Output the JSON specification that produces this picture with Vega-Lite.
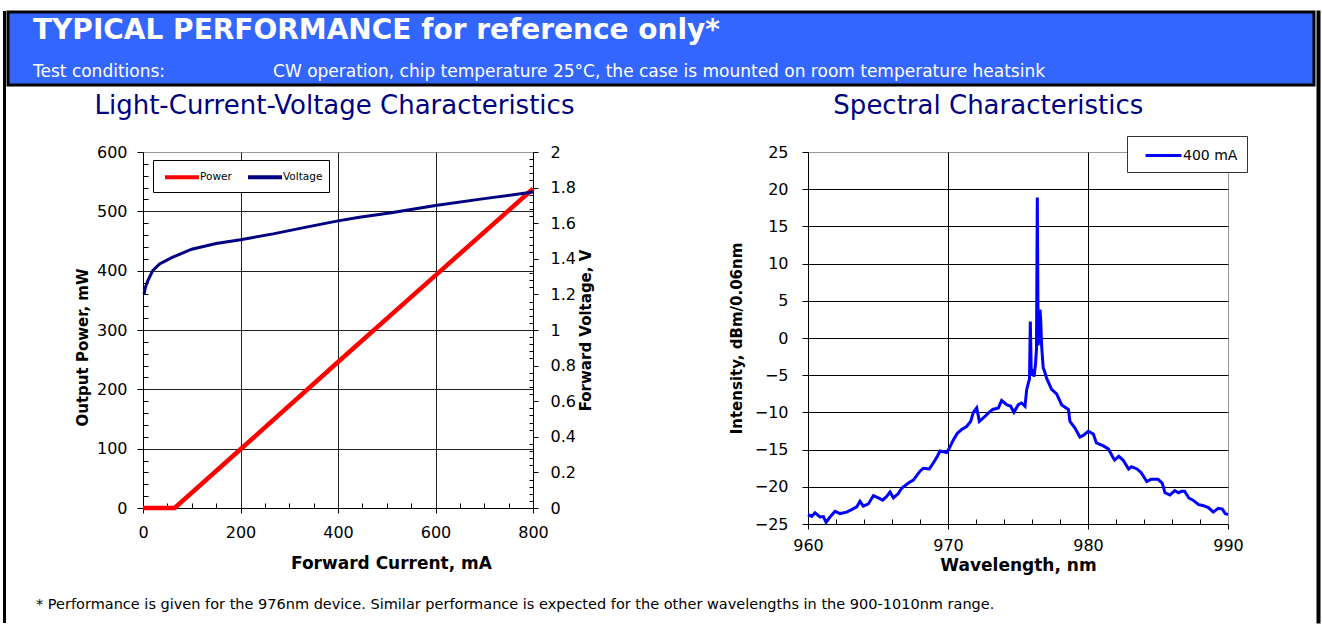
{
  "$schema": "https://vega.github.io/schema/vega-lite/v6.json",
  "background": "white",
  "padding": {"left": 3, "top": 10, "right": 2, "bottom": 0},
  "config": {
    "font": "DejaVu Sans",
    "view": {"stroke": null},
    "axis": {
      "labelFont": "DejaVu Sans", "titleFont": "DejaVu Sans",
      "labelColor": "black", "titleColor": "black",
      "domainColor": "black", "tickColor": "black",
      "labelFontSize": 16, "titleFontSize": 17, "titleFontWeight": "bold",
      "labelFlush": false, "labelOverlap": false, "labelBound": false,
      "gridColor": "#222222", "gridWidth": 1
    },
    "legend": {"labelFont": "DejaVu Sans", "labelColor": "black"}
  },
  "datasets": {
    "blank": [{"label": ""}],
    "power": [
      {"series": "Power", "current": 0, "power": 0},
      {"series": "Power", "current": 65, "power": 0},
      {"series": "Power", "current": 200, "power": 99},
      {"series": "Power", "current": 400, "power": 246},
      {"series": "Power", "current": 600, "power": 392},
      {"series": "Power", "current": 800, "power": 538}
    ],
    "voltage": [
      {"series": "Voltage", "current": 2, "voltage": 1.2},
      {"series": "Voltage", "current": 5, "voltage": 1.24},
      {"series": "Voltage", "current": 10, "voltage": 1.278},
      {"series": "Voltage", "current": 20, "voltage": 1.334},
      {"series": "Voltage", "current": 34, "voltage": 1.371},
      {"series": "Voltage", "current": 60, "voltage": 1.408},
      {"series": "Voltage", "current": 100, "voltage": 1.454},
      {"series": "Voltage", "current": 150, "voltage": 1.486},
      {"series": "Voltage", "current": 200, "voltage": 1.507},
      {"series": "Voltage", "current": 267, "voltage": 1.54},
      {"series": "Voltage", "current": 335, "voltage": 1.578},
      {"series": "Voltage", "current": 400, "voltage": 1.613},
      {"series": "Voltage", "current": 444, "voltage": 1.634},
      {"series": "Voltage", "current": 506, "voltage": 1.657},
      {"series": "Voltage", "current": 600, "voltage": 1.7},
      {"series": "Voltage", "current": 700, "voltage": 1.738},
      {"series": "Voltage", "current": 800, "voltage": 1.775}
    ],
    "spectrum": [
      {"series": "400 mA", "wl": 960.0, "intensity": -23.75},
      {"series": "400 mA", "wl": 960.27, "intensity": -23.97},
      {"series": "400 mA", "wl": 960.5, "intensity": -23.5},
      {"series": "400 mA", "wl": 960.86, "intensity": -24.06},
      {"series": "400 mA", "wl": 961.1, "intensity": -24.0},
      {"series": "400 mA", "wl": 961.29, "intensity": -24.78},
      {"series": "400 mA", "wl": 961.57, "intensity": -24.06},
      {"series": "400 mA", "wl": 961.93, "intensity": -23.3},
      {"series": "400 mA", "wl": 962.29, "intensity": -23.6},
      {"series": "400 mA", "wl": 962.76, "intensity": -23.4},
      {"series": "400 mA", "wl": 963.12, "intensity": -23.07},
      {"series": "400 mA", "wl": 963.48, "intensity": -22.7},
      {"series": "400 mA", "wl": 963.71, "intensity": -21.95},
      {"series": "400 mA", "wl": 963.95, "intensity": -22.6},
      {"series": "400 mA", "wl": 964.31, "intensity": -22.3},
      {"series": "400 mA", "wl": 964.67, "intensity": -21.2},
      {"series": "400 mA", "wl": 965.02, "intensity": -21.5},
      {"series": "400 mA", "wl": 965.33, "intensity": -21.8},
      {"series": "400 mA", "wl": 965.62, "intensity": -21.3},
      {"series": "400 mA", "wl": 965.86, "intensity": -20.7},
      {"series": "400 mA", "wl": 966.1, "intensity": -21.5},
      {"series": "400 mA", "wl": 966.45, "intensity": -20.9},
      {"series": "400 mA", "wl": 966.69, "intensity": -20.2},
      {"series": "400 mA", "wl": 967.17, "intensity": -19.5},
      {"series": "400 mA", "wl": 967.52, "intensity": -19.1},
      {"series": "400 mA", "wl": 968.0, "intensity": -17.9},
      {"series": "400 mA", "wl": 968.24, "intensity": -17.5},
      {"series": "400 mA", "wl": 968.67, "intensity": -17.6},
      {"series": "400 mA", "wl": 968.95, "intensity": -16.8},
      {"series": "400 mA", "wl": 969.24, "intensity": -15.9},
      {"series": "400 mA", "wl": 969.43, "intensity": -15.2},
      {"series": "400 mA", "wl": 969.9, "intensity": -15.4},
      {"series": "400 mA", "wl": 970.1, "intensity": -14.8},
      {"series": "400 mA", "wl": 970.38, "intensity": -13.7},
      {"series": "400 mA", "wl": 970.67, "intensity": -12.8},
      {"series": "400 mA", "wl": 970.98, "intensity": -12.3},
      {"series": "400 mA", "wl": 971.33, "intensity": -11.9},
      {"series": "400 mA", "wl": 971.62, "intensity": -11.2},
      {"series": "400 mA", "wl": 971.81, "intensity": -10.0},
      {"series": "400 mA", "wl": 972.05, "intensity": -9.4},
      {"series": "400 mA", "wl": 972.24, "intensity": -11.2},
      {"series": "400 mA", "wl": 972.52, "intensity": -10.75},
      {"series": "400 mA", "wl": 972.88, "intensity": -10.1},
      {"series": "400 mA", "wl": 973.19, "intensity": -9.6},
      {"series": "400 mA", "wl": 973.6, "intensity": -9.4},
      {"series": "400 mA", "wl": 973.83, "intensity": -8.4},
      {"series": "400 mA", "wl": 974.19, "intensity": -8.96},
      {"series": "400 mA", "wl": 974.48, "intensity": -9.18},
      {"series": "400 mA", "wl": 974.71, "intensity": -9.99},
      {"series": "400 mA", "wl": 975.02, "intensity": -8.96},
      {"series": "400 mA", "wl": 975.26, "intensity": -8.74},
      {"series": "400 mA", "wl": 975.5, "intensity": -9.18},
      {"series": "400 mA", "wl": 975.62, "intensity": -6.95},
      {"series": "400 mA", "wl": 975.74, "intensity": -6.05},
      {"series": "400 mA", "wl": 975.82, "intensity": -5.5},
      {"series": "400 mA", "wl": 975.88, "intensity": 2.2},
      {"series": "400 mA", "wl": 975.95, "intensity": -5.0},
      {"series": "400 mA", "wl": 976.05, "intensity": -4.2},
      {"series": "400 mA", "wl": 976.15, "intensity": -5.2},
      {"series": "400 mA", "wl": 976.25, "intensity": -3.5},
      {"series": "400 mA", "wl": 976.32, "intensity": -1.5},
      {"series": "400 mA", "wl": 976.38, "intensity": 18.9},
      {"series": "400 mA", "wl": 976.44, "intensity": -1.0},
      {"series": "400 mA", "wl": 976.52, "intensity": 1.0},
      {"series": "400 mA", "wl": 976.57, "intensity": 3.8},
      {"series": "400 mA", "wl": 976.62, "intensity": 2.5},
      {"series": "400 mA", "wl": 976.69, "intensity": -1.1},
      {"series": "400 mA", "wl": 976.8, "intensity": -4.0},
      {"series": "400 mA", "wl": 976.92, "intensity": -4.6},
      {"series": "400 mA", "wl": 977.04, "intensity": -5.4},
      {"series": "400 mA", "wl": 977.4, "intensity": -6.9},
      {"series": "400 mA", "wl": 977.76, "intensity": -7.5},
      {"series": "400 mA", "wl": 978.12, "intensity": -9.0},
      {"series": "400 mA", "wl": 978.6, "intensity": -9.6},
      {"series": "400 mA", "wl": 978.71, "intensity": -11.2},
      {"series": "400 mA", "wl": 979.07, "intensity": -12.1},
      {"series": "400 mA", "wl": 979.42, "intensity": -13.3},
      {"series": "400 mA", "wl": 979.66, "intensity": -13.1},
      {"series": "400 mA", "wl": 980.02, "intensity": -12.55},
      {"series": "400 mA", "wl": 980.38, "intensity": -12.9},
      {"series": "400 mA", "wl": 980.6, "intensity": -14.1},
      {"series": "400 mA", "wl": 981.1, "intensity": -14.5},
      {"series": "400 mA", "wl": 981.45, "intensity": -14.9},
      {"series": "400 mA", "wl": 981.8, "intensity": -16.1},
      {"series": "400 mA", "wl": 981.9, "intensity": -16.4},
      {"series": "400 mA", "wl": 982.2, "intensity": -15.9},
      {"series": "400 mA", "wl": 982.5, "intensity": -16.4},
      {"series": "400 mA", "wl": 982.9, "intensity": -17.6},
      {"series": "400 mA", "wl": 983.1, "intensity": -17.3},
      {"series": "400 mA", "wl": 983.5, "intensity": -17.6},
      {"series": "400 mA", "wl": 983.8, "intensity": -18.1},
      {"series": "400 mA", "wl": 984.2, "intensity": -19.3},
      {"series": "400 mA", "wl": 984.5, "intensity": -19.0},
      {"series": "400 mA", "wl": 985.0, "intensity": -19.0},
      {"series": "400 mA", "wl": 985.3, "intensity": -19.5},
      {"series": "400 mA", "wl": 985.5, "intensity": -20.8},
      {"series": "400 mA", "wl": 985.85, "intensity": -21.1},
      {"series": "400 mA", "wl": 986.2, "intensity": -20.5},
      {"series": "400 mA", "wl": 986.45, "intensity": -20.8},
      {"series": "400 mA", "wl": 986.7, "intensity": -20.6},
      {"series": "400 mA", "wl": 986.9, "intensity": -20.6},
      {"series": "400 mA", "wl": 987.2, "intensity": -21.5},
      {"series": "400 mA", "wl": 987.5, "intensity": -21.8},
      {"series": "400 mA", "wl": 987.9, "intensity": -22.4},
      {"series": "400 mA", "wl": 988.2, "intensity": -22.5},
      {"series": "400 mA", "wl": 988.6, "intensity": -22.8},
      {"series": "400 mA", "wl": 988.95, "intensity": -23.4},
      {"series": "400 mA", "wl": 989.3, "intensity": -22.9},
      {"series": "400 mA", "wl": 989.6, "intensity": -23.0},
      {"series": "400 mA", "wl": 989.8, "intensity": -23.6},
      {"series": "400 mA", "wl": 990.0, "intensity": -23.75}
    ]
  },
  "spacing": 0,
  "hconcat": [
    {
      "width": 1, "height": 610,
      "view": {"stroke": "black", "strokeWidth": 2},
      "data": {"name": "blank"},
      "mark": {"type": "text"},
      "encoding": {"text": {"field": "label"}}
    },
    {
      "title": {
        "text": "* Performance is given for the 976nm device. Similar performance is expected for the other wavelengths in the 900-1010nm range.",
        "orient": "bottom", "anchor": "start", "frame": "group",
        "fontSize": 14.5, "fontWeight": "normal", "color": "black",
        "font": "DejaVu Sans", "dx": 28, "offset": 24
      },
      "spacing": 5,
      "vconcat": [
        {
          "width": 1306, "height": 73,
          "view": {"fill": "#3366ff", "stroke": "black", "strokeWidth": 3},
          "layer": [
            {
              "data": {"values": [{"part": "a", "line": "title", "label": "TYPICAL PERFORMANCE for reference only*"}]},
              "mark": {"type": "text", "align": "left", "baseline": "middle", "color": "white", "fontSize": 28, "fontWeight": "bold", "font": "DejaVu Sans"},
              "encoding": {
                "x": {"field": "part", "type": "nominal", "scale": {"type": "point", "domain": ["a", "b", "c", "d", "e"], "padding": 0.72, "align": 0.0723}, "axis": null},
                "y": {"field": "line", "type": "nominal", "scale": {"type": "point", "domain": ["title", "sub"], "padding": 0.39, "align": 0.594}, "axis": null},
                "text": {"field": "label"}
              }
            },
            {
              "data": {"values": [
                {"part": "a", "line": "sub", "label": "Test conditions:"},
                {"part": "b", "line": "sub", "label": "CW operation, chip temperature 25°C, the case is mounted on room temperature heatsink"}
              ]},
              "mark": {"type": "text", "align": "left", "baseline": "middle", "color": "white", "fontSize": 17, "font": "DejaVu Sans"},
              "encoding": {
                "x": {"field": "part", "type": "nominal", "scale": {"type": "point", "domain": ["a", "b", "c", "d", "e"], "padding": 0.72, "align": 0.0723}, "axis": null},
                "y": {"field": "line", "type": "nominal", "scale": {"type": "point", "domain": ["title", "sub"], "padding": 0.39, "align": 0.594}, "axis": null},
                "text": {"field": "label"}
              }
            }
          ]
        },
        {
          "spacing": 0,
          "resolve": {"scale": {"color": "independent"}, "legend": {"color": "independent"}},
          "hconcat": [
            {
              "width": 66, "height": 10,
              "data": {"name": "blank"},
              "mark": {"type": "text"},
              "encoding": {"text": {"field": "label"}}
            },
            {
              "spacing": 134,
              "resolve": {"scale": {"color": "independent"}, "legend": {"color": "independent"}},
              "hconcat": [
                {
                  "width": 390, "height": 356,
                  "view": {"stroke": "#999999"},
                  "title": {"text": "Light-Current-Voltage Characteristics", "fontSize": 26, "fontWeight": "normal", "color": "#000080", "font": "DejaVu Sans", "frame": "bounds", "anchor": "middle", "offset": 25},
                  "layer": [
                    {
                      "data": {"name": "power"},
                      "mark": {"type": "line", "strokeWidth": 4.5},
                      "encoding": {
                        "x": {"field": "current", "type": "quantitative",
                          "scale": {"domain": [0, 800], "nice": false},
                          "axis": {
                            "title": "Forward Current, mA", "orient": "bottom",
                            "values": [0, 200, 400, 600, 800], "tickSize": 5,
                            "grid": true,
                            "gridOpacity": {"condition": {"test": "datum.value > 0 && datum.value < 800", "value": 1}, "value": 0},
                            "labelPadding": 11, "titlePadding": 15, "titleX": 248
                          }
                        },
                        "y": {"field": "power", "type": "quantitative",
                          "scale": {"domain": [0, 600], "nice": false},
                          "axis": {
                            "orient": "left",
                            "title": "Output Power, mW", "titleFontSize": 15, "titleY": 195,
                            "values": [0, 100, 200, 300, 400, 500, 600], "tickSize": 6,
                            "grid": true,
                            "gridOpacity": {"condition": {"test": "datum.value > 0 && datum.value < 600", "value": 1}, "value": 0},
                            "labelPadding": 10, "titlePadding": 6
                          }
                        },
                        "color": {"field": "series", "type": "nominal",
                          "scale": {"domain": ["Power", "Voltage"], "range": ["#ff0000", "#000080"]},
                          "legend": {
                            "title": null, "orient": "none", "legendX": 10, "legendY": 8,
                            "direction": "horizontal", "columns": 2,
                            "strokeColor": "black", "fillColor": "white", "padding": 6.5,
                            "symbolType": "M-2,0H2", "symbolSize": 289, "symbolStrokeWidth": 4,
                            "symbolOffset": 12, "labelOffset": 7.5,
                            "labelFontSize": 10.5, "columnPadding": 7
                          }
                        }
                      }
                    },
                    {
                      "data": {"name": "voltage"},
                      "mark": {"type": "line", "strokeWidth": 3},
                      "encoding": {
                        "x": {"field": "current", "type": "quantitative",
                          "scale": {"domain": [0, 800], "nice": false},
                          "axis": {
                            "orient": "bottom", "title": null, "labels": false, "domain": false, "grid": false,
                            "values": [50, 100, 150, 250, 300, 350, 450, 500, 550, 650, 700, 750],
                            "tickSize": 5, "offset": -5
                          }
                        },
                        "y": {"field": "voltage", "type": "quantitative",
                          "scale": {"domain": [0, 2], "nice": false},
                          "axis": {
                            "orient": "right", "title": "Forward Voltage, V", "titleFontSize": 15, "titleAngle": 270,
                            "values": [0, 0.2, 0.4, 0.6, 0.8, 1, 1.2, 1.4, 1.6, 1.8, 2],
                            "labelExpr": "format(datum.value, '~g')",
                            "tickSize": 5, "grid": false, "labelPadding": 12, "titlePadding": 18
                          }
                        },
                        "color": {"field": "series", "type": "nominal"}
                      }
                    },
                    {
                      "data": {"name": "power"},
                      "mark": {"type": "line", "opacity": 0},
                      "encoding": {
                        "x": {"field": "current", "type": "quantitative", "axis": null},
                        "y": {"field": "power", "type": "quantitative",
                          "scale": {"domain": [0, 600], "nice": false},
                          "axis": {
                            "orient": "left", "title": null, "labels": false, "domain": false, "grid": false,
                            "values": [20, 40, 60, 80, 120, 140, 160, 180, 220, 240, 260, 280, 320, 340, 360, 380, 420, 440, 460, 480, 520, 540, 560, 580],
                            "tickSize": 5, "offset": -5
                          }
                        }
                      }
                    },
                    {
                      "data": {"name": "voltage"},
                      "mark": {"type": "line", "opacity": 0},
                      "encoding": {
                        "x": {"field": "current", "type": "quantitative", "axis": null},
                        "y": {"field": "voltage", "type": "quantitative",
                          "scale": {"domain": [0, 2], "nice": false},
                          "axis": {
                            "orient": "right", "title": null, "labels": false, "domain": false, "grid": false,
                            "values": [0.04, 0.08, 0.12, 0.16, 0.24, 0.28, 0.32, 0.36, 0.44, 0.48, 0.52, 0.56, 0.64, 0.68, 0.72, 0.76, 0.84, 0.88, 0.92, 0.96, 1.04, 1.08, 1.12, 1.16, 1.24, 1.28, 1.32, 1.36, 1.44, 1.48, 1.52, 1.56, 1.64, 1.68, 1.72, 1.76, 1.84, 1.88, 1.92, 1.96],
                            "tickSize": 4, "offset": -4
                          }
                        }
                      }
                    }
                  ],
                  "resolve": {"scale": {"y": "independent"}, "axis": {"x": "independent", "y": "independent"}}
                },
                {
                  "width": 420, "height": 372,
                  "view": {"stroke": "#999999"},
                  "title": {"text": "Spectral Characteristics", "fontSize": 26, "fontWeight": "normal", "color": "#000080", "font": "DejaVu Sans", "frame": "bounds", "anchor": "middle", "offset": 17},
                  "data": {"name": "spectrum"},
                  "layer": [
                    {
                      "mark": {"type": "line", "strokeWidth": 3},
                      "encoding": {
                        "x": {"field": "wl", "type": "quantitative",
                          "scale": {"domain": [960, 990], "nice": false},
                          "axis": {
                            "title": "Wavelength, nm", "orient": "bottom",
                            "values": [960, 970, 980, 990], "tickSize": 5,
                            "grid": true, "gridColor": "black",
                            "gridOpacity": {"condition": {"test": "datum.value > 960 && datum.value < 990", "value": 1}, "value": 0},
                            "labelPadding": 8, "titlePadding": 4
                          }
                        },
                        "y": {"field": "intensity", "type": "quantitative",
                          "scale": {"domain": [-25, 25], "nice": false},
                          "axis": {
                            "orient": "left",
                            "title": "Intensity, dBm/0.06nm", "titleFontSize": 15,
                            "values": [-25, -20, -15, -10, -5, 0, 5, 10, 15, 20, 25],
                            "tickSize": 6, "grid": true, "gridColor": "black",
                            "gridOpacity": {"condition": {"test": "datum.value > -25 && datum.value < 25", "value": 1}, "value": 0},
                            "labelPadding": 14, "titlePadding": 10
                          }
                        },
                        "color": {"field": "series", "type": "nominal",
                          "scale": {"domain": ["400 mA"], "range": ["#0000ff"]},
                          "legend": {
                            "title": null, "orient": "none", "legendX": 319, "legendY": -16,
                            "strokeColor": "#333333", "fillColor": "white", "padding": 9,
                            "symbolType": "M-2,0H2", "symbolSize": 324, "symbolStrokeWidth": 3,
                            "symbolOffset": 17, "labelOffset": 9,
                            "labelFontSize": 14
                          }
                        }
                      }
                    },
                    {
                      "mark": {"type": "line", "opacity": 0},
                      "encoding": {
                        "x": {"field": "wl", "type": "quantitative",
                          "scale": {"domain": [960, 990], "nice": false},
                          "axis": {
                            "orient": "bottom", "title": null, "labels": false, "domain": false, "grid": false,
                            "values": [962, 964, 966, 968, 972, 974, 976, 978, 982, 984, 986, 988],
                            "tickSize": 5, "offset": -5
                          }
                        },
                        "y": {"field": "intensity", "type": "quantitative",
                          "scale": {"domain": [-25, 25], "nice": false},
                          "axis": {
                            "orient": "left",
                            "title": "Intensity, dBm/0.06nm", "titleFontSize": 15,
                            "values": [-25, -20, -15, -10, -5, 0, 5, 10, 15, 20, 25],
                            "tickSize": 6, "grid": true, "gridColor": "black",
                            "gridOpacity": {"condition": {"test": "datum.value > -25 && datum.value < 25", "value": 1}, "value": 0},
                            "labelPadding": 14, "titlePadding": 10
                          }
                        }
                      }
                    }
                  ],
                  "resolve": {"axis": {"x": "independent"}}
                }
              ]
            }
          ]
        }
      ]
    },
    {
      "width": 1, "height": 610,
      "view": {"stroke": "black", "strokeWidth": 3},
      "data": {"name": "blank"},
      "mark": {"type": "text"},
      "encoding": {"text": {"field": "label"}}
    }
  ]
}
